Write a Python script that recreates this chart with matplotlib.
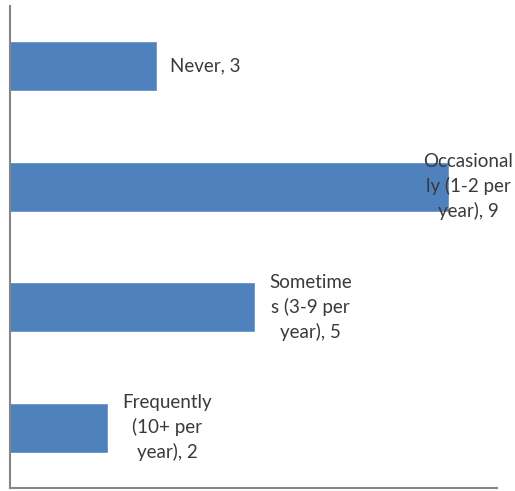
import numpy as np
import matplotlib.pyplot as plt

# survey answers, top to bottom
categories = ["Never", "Occasionally (1-2 per year)", "Sometimes (3-9 per year)", "Frequently (10+ per year)"]
values = [3, 9, 5, 2]
labels = ["Never, 3", "Occasional\nly (1-2 per\nyear), 9", "Sometime\ns (3-9 per\nyear), 5", "Frequently\n(10+ per\nyear), 2"]
label_shift = [49, 20, 57, 60]  # pixels right of bar end to label centre

plt.rcParams['font.family'] = ['Lato', 'DejaVu Sans']

fig = plt.figure(figsize=(5.15, 4.91), dpi=100)
ax = fig.add_axes([10 / 515, 3 / 491, 487 / 515, 482 / 491])

y = np.arange(len(categories))
ax.barh(y, values, height=0.4, color='#4F81BD', edgecolor='#6A95C9', linewidth=0.6)

for yi, v, lab, dx in zip(y, values, labels, label_shift):
    ax.annotate(lab, (v, yi), xytext=(dx, 0), textcoords='offset pixels',
                ha='center', va='center', multialignment='center',
                fontsize=13.5, color='#3A3A3A', linespacing=1.45)

ax.set_xlim(0, 10)
ax.set_ylim(len(categories) - 0.5, -0.5)
ax.set_xticks([])
ax.set_yticks([])
for s in ['top', 'right']:
    ax.spines[s].set_visible(False)
for s in ['left', 'bottom']:
    ax.spines[s].set_color('#868686')
    ax.spines[s].set_linewidth(1.5)

fig.savefig('out.png', dpi=100)
